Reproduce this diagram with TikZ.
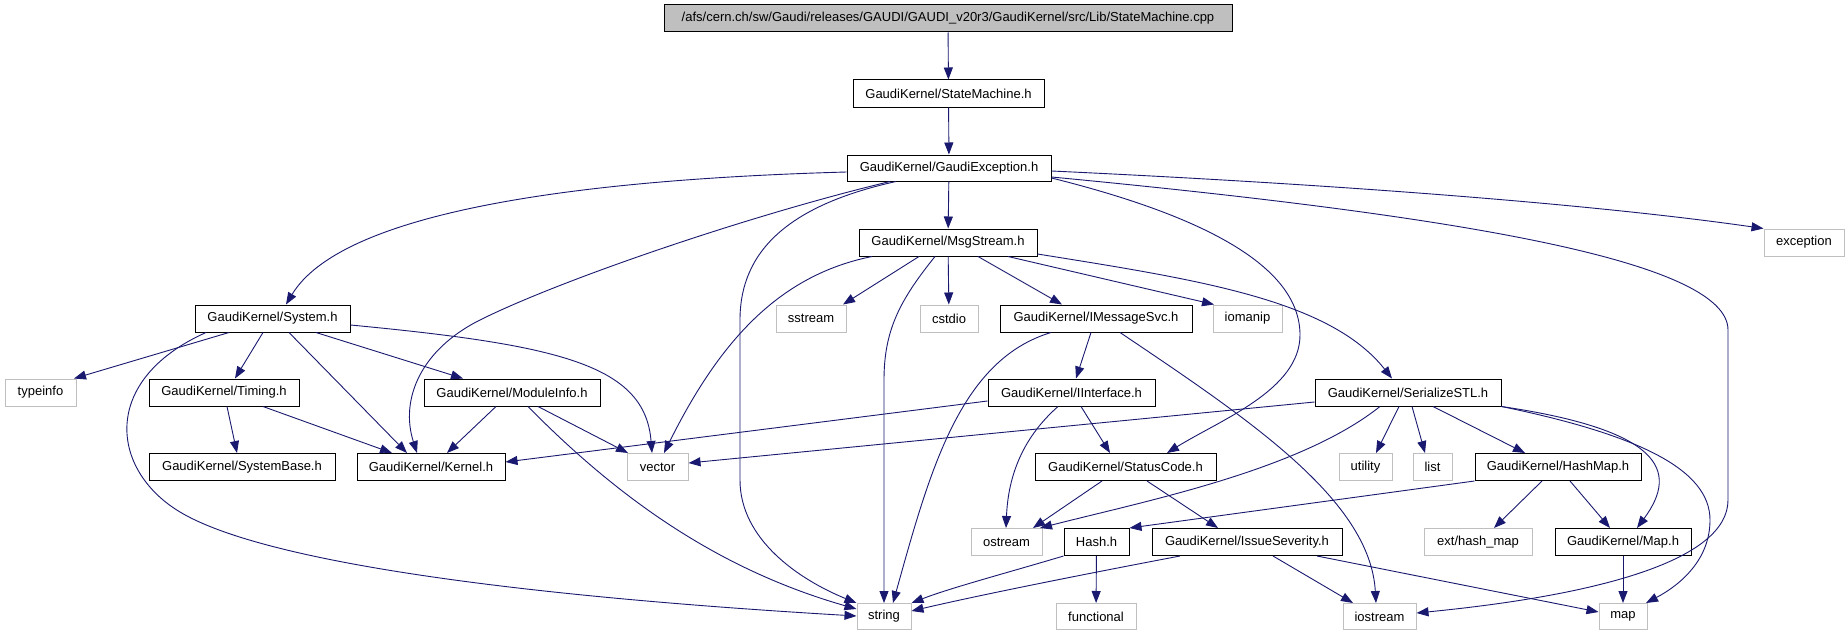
\documentclass[tikz,border=0pt]{standalone}
\usepackage{fontspec}
\setmainfont{Liberation Sans}
\usetikzlibrary{arrows.meta}
\definecolor{edgeblue}{HTML}{191970}
\definecolor{extgray}{HTML}{BFBFBF}
\begin{document}
\begin{tikzpicture}[x=1pt,y=-1pt,
  box/.style={line width=1pt, inner sep=0pt, font=\fontsize{13}{15}\selectfont, minimum height=27pt},
  doc/.style={box, draw=black, fill=white},
  ext/.style={box, draw=extgray, fill=white},
  root/.style={box, draw=black, fill=extgray},
  dep/.style={draw=edgeblue, line width=0.9pt, -{Triangle[length=12pt,width=9pt,fill=edgeblue]}}]
\useasboundingbox[fill=white] (0,0) rectangle (1848,634);
% row 0-3
\node[root, minimum width=568pt] (top) at (948,18.5) {/afs/cern.ch/sw/Gaudi/releases/GAUDI/GAUDI\_v20r3/GaudiKernel/src/Lib/StateMachine.cpp};
\node[doc, minimum width=191pt] (sm) at (948.5,93.5) {GaudiKernel/StateMachine.h};
\node[doc, minimum width=204pt, minimum height=26pt] (ge) at (949,168) {GaudiKernel/GaudiException.h};
\node[doc, minimum width=178pt] (ms) at (948,242.5) {GaudiKernel/MsgStream.h};
\node[ext, minimum width=80pt] (exc) at (1804,242.5) {exception};
% row 4
\node[doc, minimum width=155pt] (sys) at (272.5,318.5) {GaudiKernel/System.h};
\node[ext, minimum width=70pt] (sst) at (811,318.5) {sstream};
\node[ext, minimum width=58pt] (cst) at (949,318.5) {cstdio};
\node[doc, minimum width=192pt] (ims) at (1096,318.5) {GaudiKernel/IMessageSvc.h};
\node[ext, minimum width=69pt] (iom) at (1247.5,318.5) {iomanip};
% row 5
\node[ext, minimum width=71pt] (typ) at (40.5,392.5) {typeinfo};
\node[doc, minimum width=150pt] (tim) at (224,392.5) {GaudiKernel/Timing.h};
\node[doc, minimum width=176pt] (mod) at (512,392.5) {GaudiKernel/ModuleInfo.h};
\node[doc, minimum width=167pt] (iif) at (1071.5,392.5) {GaudiKernel/IInterface.h};
\node[doc, minimum width=186pt] (ser) at (1408,392.5) {GaudiKernel/SerializeSTL.h};
% row 6
\node[doc, minimum width=186pt] (sb) at (242,467) {GaudiKernel/SystemBase.h};
\node[doc, minimum width=148pt] (ker) at (431,467) {GaudiKernel/Kernel.h};
\node[ext, minimum width=61pt] (vec) at (657.5,467) {vector};
\node[doc, minimum width=181pt] (sc) at (1125.5,467) {GaudiKernel/StatusCode.h};
\node[ext, minimum width=53pt] (uti) at (1365.5,467) {utility};
\node[ext, minimum width=39pt] (lst) at (1432.5,467) {list};
\node[doc, minimum width=166pt] (hm) at (1558,467) {GaudiKernel/HashMap.h};
% row 7
\node[ext, minimum width=71pt] (ost) at (1006.5,542) {ostream};
\node[doc, minimum width=65pt] (hsh) at (1096.5,542) {Hash.h};
\node[doc, minimum width=190pt] (iss) at (1247,542) {GaudiKernel/IssueSeverity.h};
\node[ext, minimum width=108pt] (ehm) at (1478,542) {ext/hash\_map};
\node[doc, minimum width=136pt] (mh) at (1623,542) {GaudiKernel/Map.h};
% row 8
\node[ext, minimum width=54pt, minimum height=26pt] (str) at (884,616.5) {string};
\node[ext, minimum width=80pt, minimum height=26pt] (fun) at (1096,616.5) {functional};
\node[ext, minimum width=73pt, minimum height=26pt] (ios) at (1379.5,616.5) {iostream};
\node[ext, minimum width=48pt, minimum height=26pt] (mp) at (1623,616.5) {map};

% top chain
\draw[dep] (top) -- (sm);
\draw[dep] (sm) -- (ge);
% GaudiException
\draw[dep] (ge.west |- 0,172) .. controls (560,180) and (340,215) .. (286,0 |- sys.north);
\draw[dep] (890,0 |- ge.south) .. controls (750,215) and (560,280) .. (480,320) .. controls (420,350) and (400,400) .. (417,0 |- ker.north);
\draw[dep] (896,0 |- ge.south) .. controls (790,205) and (740,250) .. (740,320) -- (740,480) .. controls (740,540) and (800,580) .. (str.north west);
\draw[dep] (ge) -- (ms);
\draw[dep] (ge.east |- 0,178) .. controls (1200,215) and (1300,265) .. (1300,335) .. controls (1300,390) and (1220,420) .. (1167,0 |- sc.north);
\draw[dep] (ge.east |- 0,171) .. controls (1350,185) and (1600,205) .. (exc.north west);
\draw[dep] (ge.east |- 0,177) .. controls (1450,215) and (1728,260) .. (1728,330) -- (1728,500) .. controls (1728,560) and (1600,595) .. (ios.east |- 0,613);
% MsgStream
\draw[dep] (872,0 |- ms.south) .. controls (780,275) and (720,340) .. (664,0 |- vec.north);
\draw[dep] (919,0 |- ms.south) -- (843,0 |- sst.north);
\draw[dep] (935,0 |- ms.south) .. controls (900,300) and (884,330) .. (884,380) -- (str.north);
\draw[dep] (ms) -- (cst);
\draw[dep] (978,0 |- ms.south) -- (1062,0 |- ims.north);
\draw[dep] (1008,0 |- ms.south) -- (1214,0 |- iom.north);
\draw[dep] (ms.east |- 0,254) .. controls (1200,280) and (1330,300) .. (1392,0 |- ser.north);
% System
\draw[dep] (229,0 |- sys.south) -- (74,0 |- typ.north);
\draw[dep] (206,0 |- sys.south) .. controls (100,380) and (110,470) .. (180,512) .. controls (260,560) and (500,595) .. (str.west |- 0,616);
\draw[dep] (263,0 |- sys.south) -- (235,0 |- tim.north);
\draw[dep] (289,0 |- sys.south) -- (407,0 |- ker.north);
\draw[dep] (316,0 |- sys.south) -- (463,0 |- mod.north);
\draw[dep] (sys.east |- 0,325) .. controls (560,345) and (645,365) .. (652,0 |- vec.north);
% Timing
\draw[dep] (227,0 |- tim.south) -- (237,0 |- sb.north);
\draw[dep] (263,0 |- tim.south) -- (392,0 |- ker.north);
% ModuleInfo
\draw[dep] (496,0 |- mod.south) -- (447,0 |- ker.north);
\draw[dep] (538,0 |- mod.south) -- (628,0 |- vec.north);
\draw[dep] (528,0 |- mod.south) .. controls (620,500) and (720,570) .. (str.west |- 0,609);
% IMessageSvc
\draw[dep] (1091,0 |- ims.south) -- (1076,0 |- iif.north);
\draw[dep] (1051,0 |- ims.south) .. controls (960,360) and (930,470) .. (893,0 |- str.north);
\draw[dep] (1120,0 |- ims.south) .. controls (1250,420) and (1370,500) .. (1376,0 |- ios.north);
% IInterface
\draw[dep] (iif.west |- 0,401) -- (ker.east |- 0,462);
\draw[dep] (1058,0 |- iif.south) .. controls (1020,440) and (1008,480) .. (1006,0 |- ost.north);
\draw[dep] (1081,0 |- iif.south) -- (1110,0 |- sc.north);
% StatusCode
\draw[dep] (1102,0 |- sc.south) -- (1033,0 |- ost.north);
\draw[dep] (1147,0 |- sc.south) -- (1218,0 |- iss.north);
% SerializeSTL
\draw[dep] (ser.west |- 0,402) -- (vec.east |- 0,463);
\draw[dep] (1380,0 |- ser.south) .. controls (1300,470) and (1150,500) .. (1040,0 |- ost.north);
\draw[dep] (1399,0 |- ser.south) -- (1376,0 |- uti.north);
\draw[dep] (1412,0 |- ser.south) -- (1425,0 |- lst.north);
\draw[dep] (1433,0 |- ser.south) -- (1525,0 |- hm.north);
\draw[dep] (ser.south east) .. controls (1660,430) and (1680,470) .. (1637,0 |- mh.north);
\draw[dep] (ser.south east) .. controls (1640,435) and (1710,470) .. (1710,520) .. controls (1710,560) and (1680,585) .. (1646,0 |- mp.north);
% HashMap
\draw[dep] (hm.south west) -- (hsh.north east);
\draw[dep] (1542,0 |- hm.south) -- (1494,0 |- ehm.north);
\draw[dep] (1570,0 |- hm.south) -- (1610,0 |- mh.north);
% Map
\draw[dep] (mh) -- (mp);
% Hash
\draw[dep] (hsh.south west) .. controls (1010,572) and (950,588) .. (str.north east);
\draw[dep] (hsh) -- (fun);
% IssueSeverity
\draw[dep] (1180,0 |- iss.south) .. controls (1080,575) and (980,595) .. (str.east |- 0,611);
\draw[dep] (1273,0 |- iss.south) -- (1353,0 |- ios.north);
\draw[dep] (1317,0 |- iss.south) -- (mp.west |- 0,612);
\end{tikzpicture}
\end{document}
